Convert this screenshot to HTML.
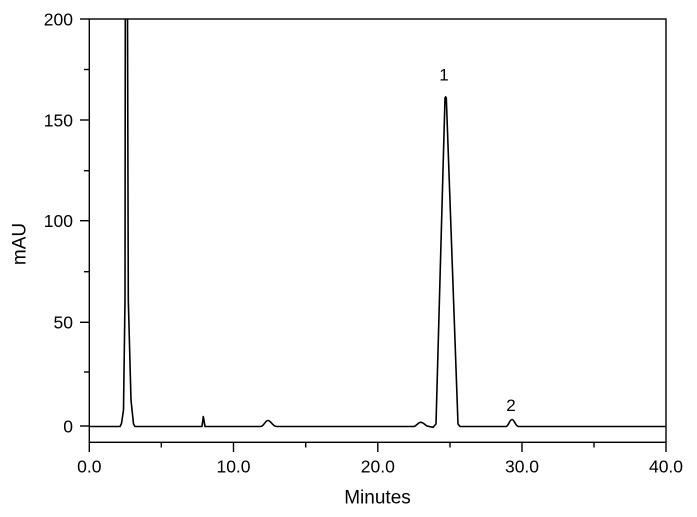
<!DOCTYPE html>
<html>
<head>
<meta charset="utf-8">
<style>
html,body{margin:0;padding:0;background:#fff;}
svg{display:block;}
text{font-family:"Liberation Sans",Arial,sans-serif;fill:#000;}
</style>
</head>
<body>
<svg width="697" height="517" viewBox="0 0 697 517" xmlns="http://www.w3.org/2000/svg">
<defs>
<clipPath id="pa"><rect x="89" y="19" width="577" height="424"/></clipPath>
</defs>
<rect x="0" y="0" width="697" height="517" fill="#fff"/>

<!-- trace -->
<g clip-path="url(#pa)">
<path fill="none" stroke="#000" stroke-width="1.6" stroke-linejoin="round"
d="M89,426.5 L120,426.5 L121.5,423.5 L123.5,410 L125,300 L125.3,10 L127.5,10 L128.3,300 L131,400 L133.5,424 L135,426.5
L202,426.5 L203.3,416.5 L205,426.5
L260.5,426.5 C264,426.5 265,420.5 268,420.5 C271,420.5 272.5,426.5 276.5,426.5
L414,426.5 C416.5,426 418,422.3 420.7,422.3 C423.5,422.3 425,425 427,426 L433,427.3 L436,424 L445,98 L445.6,96.8 L446.3,98 L458,424 L460,426.5
L506,426.5 C508.5,426.5 509.5,419.5 512,419.5 C514.5,419.5 515.5,426.5 518.5,426.5
L666,426.5"/>
</g>

<!-- frame -->
<rect x="89.3" y="19" width="576.7" height="423.3" fill="none" stroke="#000" stroke-width="1.4"/>

<!-- y ticks -->
<g stroke="#000" stroke-width="1.4">
<line x1="80" y1="19" x2="89.3" y2="19"/>
<line x1="84" y1="69.5" x2="89.3" y2="69.5"/>
<line x1="80" y1="120" x2="89.3" y2="120"/>
<line x1="84" y1="170.7" x2="89.3" y2="170.7"/>
<line x1="80" y1="220.7" x2="89.3" y2="220.7"/>
<line x1="84" y1="271.7" x2="89.3" y2="271.7"/>
<line x1="80" y1="322.3" x2="89.3" y2="322.3"/>
<line x1="84" y1="372" x2="89.3" y2="372"/>
<line x1="80" y1="426" x2="89.3" y2="426"/>
</g>
<!-- x ticks -->
<g stroke="#000" stroke-width="1.4">
<line x1="89.3" y1="442.3" x2="89.3" y2="452"/>
<line x1="161.3" y1="442.3" x2="161.3" y2="447.5"/>
<line x1="233.5" y1="442.3" x2="233.5" y2="452"/>
<line x1="305.7" y1="442.3" x2="305.7" y2="447.5"/>
<line x1="377.8" y1="442.3" x2="377.8" y2="452"/>
<line x1="450" y1="442.3" x2="450" y2="447.5"/>
<line x1="522" y1="442.3" x2="522" y2="452"/>
<line x1="594" y1="442.3" x2="594" y2="447.5"/>
<line x1="666" y1="442.3" x2="666" y2="452"/>
</g>

<!-- y labels -->
<g font-size="17.5" text-anchor="end">
<text x="73" y="25.3">200</text>
<text x="73" y="126.3">150</text>
<text x="73" y="227">100</text>
<text x="73" y="328.6">50</text>
<text x="73" y="432.3">0</text>
</g>
<!-- x labels -->
<g font-size="17.5" text-anchor="middle">
<text x="89.3" y="472.3">0.0</text>
<text x="233.5" y="472.3">10.0</text>
<text x="377.8" y="472.3">20.0</text>
<text x="522" y="472.3">30.0</text>
<text x="666" y="472.3">40.0</text>
</g>

<!-- peak labels -->
<text x="444" y="80.5" font-size="17" text-anchor="middle">1</text>
<text x="511" y="411" font-size="17" text-anchor="middle">2</text>

<!-- axis titles -->
<text x="377.5" y="503.5" font-size="19" text-anchor="middle">Minutes</text>
<text x="0" y="0" font-size="19" text-anchor="middle" transform="translate(25.5,244) rotate(-90)">mAU</text>
</svg>
</body>
</html>
